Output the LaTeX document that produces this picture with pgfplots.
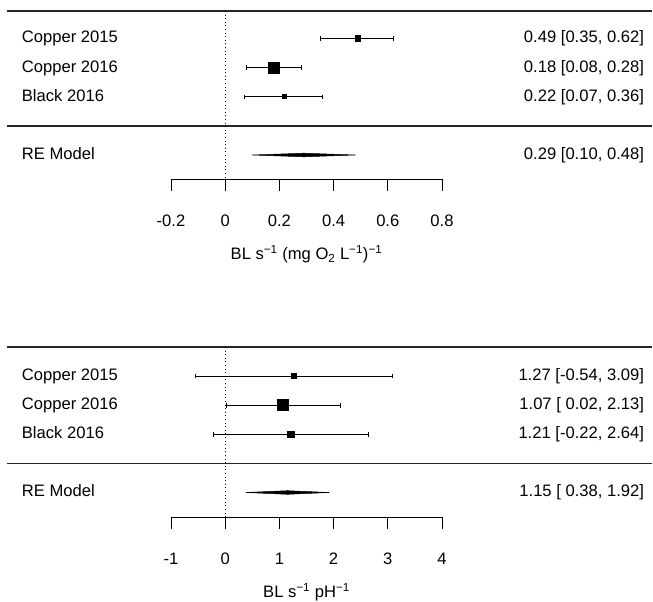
\documentclass[border=0pt]{standalone}
\usepackage{fontspec}
\setmainfont{Liberation Sans}
\usepackage{pgfplots}
\pgfplotsset{compat=1.18}
\tikzset{
  lab/.style={anchor=mid west, inner sep=0pt},
  val/.style={anchor=mid east, inner sep=0pt},
}
\begin{document}
\fontsize{16.6}{20}\selectfont
\begin{tikzpicture}
\useasboundingbox (-171pt,-423pt) rectangle (482pt,179pt);
\pgfplotsset{
  forest/.style={
    scale only axis, width=271pt, clip=false,
    axis x line*=bottom, axis y line=none,
    tick align=outside, major tick length=12pt,
    every tick/.style={black, line width=0.9pt},
    axis line style={line width=0.9pt},
    xticklabel style={anchor=north, inner sep=0pt, yshift=-23.5pt},
    xlabel style={at={(axis description cs:0.5,0)}, anchor=base, inner sep=0pt, yshift=-80.5pt},
    tick label style={font=\fontsize{16.6}{20}\selectfont},
    label style={font=\fontsize{16.6}{20}\selectfont},
  },
  ci/.style={black, line width=0.9pt, mark=|, mark size=2.2pt, mark options={line width=0.9pt}},
  pt/.style={only marks, mark=square*, mark options={fill=black, draw=black, line width=0pt}},
  rule/.style={black!85, line width=1.3pt},
}
% ---------------- top panel ----------------
\begin{axis}[forest, xmin=-0.2, xmax=0.8, ymin=-179, ymax=-11, height=168pt,
  xtick={-0.2,0,0.2,0.4,0.6,0.8}, xticklabels={-0.2,0,0.2,0.4,0.6,0.8},
  xlabel={BL s\textsuperscript{−1} (mg O\textsubscript{2} L\textsuperscript{−1})\textsuperscript{−1}}]
\addplot[rule] coordinates {(-0.8044,-11) (1.5756,-11)};
\addplot[rule] coordinates {(-0.8044,-126) (1.5756,-126)};
\addplot[black, line width=0.9pt, dash pattern=on 1pt off 2.6pt] coordinates {(0,-11) (0,-179)};
\addplot[ci] coordinates {(0.35,-38.5) (0.62,-38.5)};
\addplot[ci] coordinates {(0.08,-67.7) (0.28,-67.7)};
\addplot[ci] coordinates {(0.07,-96.8) (0.36,-96.8)};
\addplot[pt, mark size=2.6pt] coordinates {(0.49,-38.5)};
\addplot[pt, mark size=5.6pt] coordinates {(0.18,-67.7)};
\addplot[pt, mark size=1.9pt] coordinates {(0.22,-96.8)};
\addplot[fill=black, draw=black, line width=0.5pt] coordinates {(0.10,-155) (0.29,-153.2) (0.48,-155) (0.29,-156.8)} -- cycle;
\node[lab] at (axis cs:-0.751,-38.5) {Copper 2015};
\node[lab] at (axis cs:-0.751,-67.7) {Copper 2016};
\node[lab] at (axis cs:-0.751,-96.8) {Black 2016};
\node[lab] at (axis cs:-0.751,-155) {RE Model};
\node[val] at (axis cs:1.546,-38.5) {0.49 [0.35, 0.62]};
\node[val] at (axis cs:1.546,-67.7) {0.18 [0.08, 0.28]};
\node[val] at (axis cs:1.546,-96.8) {0.22 [0.07, 0.36]};
\node[val] at (axis cs:1.546,-155) {0.29 [0.10, 0.48]};
\end{axis}
% ---------------- bottom panel ----------------
\begin{axis}[forest, at={(0pt,-338pt)}, xmin=-1, xmax=4, ymin=-517, ymax=-347, height=170pt,
  xtick={-1,0,1,2,3,4}, xticklabels={-1,0,1,2,3,4},
  xlabel={BL s\textsuperscript{−1} pH\textsuperscript{−1}}]
\addplot[rule] coordinates {(-4.022,-347) (7.878,-347)};
\addplot[rule] coordinates {(-4.022,-463.3) (7.878,-463.3)};
\addplot[black, line width=0.9pt, dash pattern=on 1pt off 2.6pt] coordinates {(0,-347) (0,-517)};
\addplot[ci] coordinates {(-0.54,-376) (3.09,-376)};
\addplot[ci] coordinates {(0.02,-405.3) (2.13,-405.3)};
\addplot[ci] coordinates {(-0.22,-434.3) (2.64,-434.3)};
\addplot[pt, mark size=2.1pt] coordinates {(1.27,-376)};
\addplot[pt, mark size=5.6pt] coordinates {(1.07,-405.3)};
\addplot[pt, mark size=3.3pt] coordinates {(1.21,-434.3)};
\addplot[fill=black, draw=black, line width=0.5pt] coordinates {(0.38,-492.5) (1.15,-490.7) (1.92,-492.5) (1.15,-494.3)} -- cycle;
\node[lab] at (axis cs:-3.755,-376) {Copper 2015};
\node[lab] at (axis cs:-3.755,-405.3) {Copper 2016};
\node[lab] at (axis cs:-3.755,-434.3) {Black 2016};
\node[lab] at (axis cs:-3.755,-492.5) {RE Model};
\node[val] at (axis cs:7.731,-376) {1.27 [-0.54, 3.09]};
\node[val] at (axis cs:7.731,-405.3) {1.07 [ 0.02, 2.13]};
\node[val] at (axis cs:7.731,-434.3) {1.21 [-0.22, 2.64]};
\node[val] at (axis cs:7.731,-492.5) {1.15 [ 0.38, 1.92]};
\end{axis}
\end{tikzpicture}
\end{document}
